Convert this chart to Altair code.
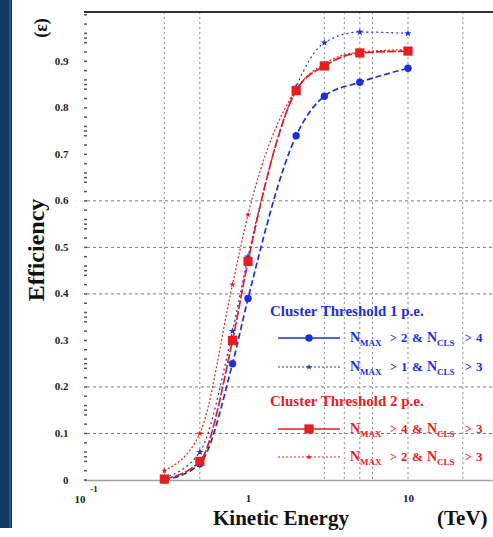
import altair as alt
import pandas as pd

# ---------------- data ----------------
energy = [0.3, 0.5, 0.8, 1.0, 2.0, 3.0, 5.0, 10.0]
eff_circle = [0.0, 0.035, 0.25, 0.39, 0.74, 0.825, 0.855, 0.885]     # 1 p.e., NMAX>2 & NCLS>4
eff_bstar = [0.005, 0.06, 0.32, 0.48, 0.845, 0.94, 0.963, 0.96]      # 1 p.e., NMAX>1 & NCLS>3
eff_square = [0.002, 0.04, 0.30, 0.47, 0.837, 0.89, 0.918, 0.922]    # 2 p.e., NMAX>4 & NCLS>3
eff_rstar = [0.02, 0.10, 0.42, 0.57, 0.84, 0.895, 0.92, 0.925]       # 2 p.e., NMAX>2 & NCLS>3

y_tick_values = [0.0, 0.1, 0.2, 0.3, 0.4, 0.5, 0.6, 0.7, 0.8, 0.9]
y_minor_ticks = [0.0, 0.02, 0.04, 0.05, 0.06, 0.08, 0.1, 0.12, 0.14, 0.15, 0.16, 0.18, 0.2,
                 0.22, 0.24, 0.25, 0.26, 0.28, 0.3, 0.32, 0.34, 0.35, 0.36, 0.38, 0.4,
                 0.42, 0.44, 0.45, 0.46, 0.48, 0.5, 0.52, 0.54, 0.55, 0.56, 0.58, 0.6,
                 0.62, 0.64, 0.65, 0.66, 0.68, 0.7, 0.72, 0.74, 0.75, 0.76, 0.78, 0.8,
                 0.82, 0.84, 0.85, 0.86, 0.88, 0.9, 0.92, 0.94, 0.95, 0.96, 0.98, 1.0]
y_grid_values = [0.1, 0.2, 0.4, 0.5, 0.6]
x_grid_values = [0.3, 0.5, 3, 4, 5, 6, 10, 22]
x_label_values = [1, 10]
x_domain = [0.0944, 33.5]
y_domain = [0.0, 1.006]

legend_heads = ["Cluster Threshold 1 p.e.", "Cluster Threshold 2 p.e."]
legend_nmax = ["2", "1", "4", "2"]
legend_ncls = ["4", "3", "3", "3"]

# ---------------- styling ----------------
OX, OY = 84, 12
W, H = 408, 468
SERIF = "Liberation Serif"
BLUE = "#1c2fe0"
RED = "#e61e1e"
STAR = ("M0,-1L0.2245,-0.309L0.9511,-0.309L0.3633,0.118L0.5878,0.809L0,0.382"
        "L-0.5878,0.809L-0.3633,0.118L-0.9511,-0.309L-0.2245,-0.309Z")

X_SCALE = alt.Scale(type="log", domain=x_domain, nice=False)
Y_SCALE = alt.Scale(domain=y_domain, nice=False, zero=False)
X_AXIS = alt.Axis(values=x_label_values, format="~g", title=None, ticks=False, grid=False,
                  domain=True, domainColor="#a0a0a0", domainWidth=1.5,
                  labelFont=SERIF, labelFontWeight="bold", labelFontSize=11,
                  labelPadding=12, labelColor="#222222")
Y_AXIS = alt.Axis(values=y_tick_values, format=".1~f", title=None, ticks=False, grid=False,
                  domain=False, labelFont=SERIF, labelFontWeight="bold", labelFontSize=11,
                  labelPadding=16, labelColor="#222222")


def xe(f):
    return alt.X(f"{f}:Q", scale=X_SCALE, axis=X_AXIS)


def ye(f):
    return alt.Y(f"{f}:Q", scale=Y_SCALE, axis=Y_AXIS)


ONE = pd.DataFrame({"a": [0]})


def txt(s, x, y, size, color, align="left", baseline="middle", angle=None, weight="bold"):
    kw = dict(text=s, align=align, baseline=baseline, font=SERIF, fontSize=size,
              fontWeight=weight, color=color)
    if angle is not None:
        kw["angle"] = angle
    return alt.Chart(ONE).mark_text(**kw).encode(x=alt.value(x - OX), y=alt.value(y - OY))


df = pd.DataFrame({"E": energy, "circle": eff_circle, "bstar": eff_bstar,
                   "square": eff_square, "rstar": eff_rstar})

layers = []

# grid
layers.append(alt.Chart(pd.DataFrame({"g": y_grid_values})).mark_rule(
    color="#7a7a7a", strokeDash=[3, 3], strokeWidth=1).encode(y=ye("g")))
layers.append(alt.Chart(pd.DataFrame({"g": x_grid_values})).mark_rule(
    color="#8a8a8a", strokeDash=[2, 3], strokeWidth=1).encode(x=xe("g")))

# y ticks on the inside
layers.append(alt.Chart(pd.DataFrame({"t": y_minor_ticks})).mark_rule(
    color="#555555", strokeWidth=1.5).encode(y=ye("t"), x=alt.value(0), x2=alt.value(3)))

# axis-carrying invisible layer for x labels
layers.append(alt.Chart(pd.DataFrame({"t": x_label_values, "v": [0, 0]})).mark_point(
    opacity=0).encode(x=xe("t"), y=ye("v")))

# top frame
layers.append(alt.Chart(ONE).mark_rule(color="#333333", strokeWidth=2).encode(
    x=alt.value(0), x2=alt.value(W + 1), y=alt.value(0)))

# curves
series = [
    ("bstar", BLUE, [2, 3], 1.2),
    ("rstar", RED, [2, 2], 1.2),
    ("circle", BLUE, [6, 3], 1.7),
    ("square", RED, [9, 2], 1.7),
]
for f, c, dash, sw in series:
    layers.append(alt.Chart(df).mark_line(interpolate="monotone", color=c,
                                          strokeDash=dash, strokeWidth=sw)
                  .encode(x=xe("E"), y=ye(f)))

# markers
layers.append(alt.Chart(df).mark_point(shape=STAR, filled=True, size=60, color=BLUE, opacity=1)
              .encode(x=xe("E"), y=ye("bstar")))
layers.append(alt.Chart(df).mark_point(shape=STAR, filled=True, size=45, color=RED, opacity=1)
              .encode(x=xe("E"), y=ye("rstar")))
layers.append(alt.Chart(df).mark_point(shape="circle", filled=True, size=55, color=BLUE, opacity=1)
              .encode(x=xe("E"), y=ye("circle")))
layers.append(alt.Chart(df).mark_point(shape="square", filled=True, size=85, color=RED, opacity=1)
              .encode(x=xe("E"), y=ye("square")))

# ---------------- legend ----------------
layers.append(txt(legend_heads[0], 270, 311, 15, BLUE))
layers.append(txt(legend_heads[1], 270, 401, 15, RED))

entry_y = [338, 367, 429, 457]
entry_col = [BLUE, BLUE, RED, RED]
entry_dash = [None, [2, 2], None, [2, 2]]
entry_shape = ["circle", STAR, "square", STAR]
entry_size = [55, 40, 85, 35]
for i in range(4):
    yy = entry_y[i]
    col = entry_col[i]
    rk = dict(color=col, strokeWidth=1.6 if entry_dash[i] is None else 1.1)
    if entry_dash[i] is not None:
        rk["strokeDash"] = entry_dash[i]
    layers.append(alt.Chart(ONE).mark_rule(**rk).encode(
        x=alt.value(278 - OX), x2=alt.value(340 - OX), y=alt.value(yy - OY)))
    layers.append(alt.Chart(ONE).mark_point(shape=entry_shape[i], filled=True,
                                            size=entry_size[i], color=col, opacity=1)
                  .encode(x=alt.value(309 - OX), y=alt.value(yy - OY)))
    layers.append(txt("N", 350, yy, 14, col))
    layers.append(txt("MAX", 360, yy + 5, 9, col))
    layers.append(txt(">", 390, yy, 12, col))
    layers.append(txt(legend_nmax[i], 401, yy, 13, col))
    layers.append(txt("&", 412, yy, 13, col))
    layers.append(txt("N", 427, yy, 14, col))
    layers.append(txt("CLS", 437, yy + 5, 9, col))
    layers.append(txt(">", 465, yy, 12, col))
    layers.append(txt(legend_ncls[i], 476, yy, 13, col))

# ---------------- titles & decorations ----------------
layers.append(txt("Efficiency", 37, 250, 24, "#111111", align="center", angle=270))
layers.append(txt("(ε)", 42, 28, 18, "#111111", align="center", angle=270))
layers.append(txt("Kinetic Energy", 213, 525, 21, "#111111", baseline="alphabetic"))
layers.append(txt("(TeV)", 437, 525, 21, "#111111", baseline="alphabetic"))
layers.append(txt("10", 80, 500, 11, "#222222", align="center"))
layers.append(txt("-1", 94, 489, 9, "#222222", align="center"))

# left dark border band
layers.append(alt.Chart(ONE).mark_rect(color="#113a63").encode(
    x=alt.value(0 - OX), x2=alt.value(12 - OX), y=alt.value(0 - OY), y2=alt.value(528 - OY)))
layers.append(alt.Chart(ONE).mark_rule(color="#2f5f8e", strokeWidth=1.5).encode(
    x=alt.value(10 - OX), y=alt.value(0 - OY), y2=alt.value(528 - OY)))

chart = alt.layer(*layers).properties(
    width=W, height=H,
    autosize=alt.AutoSizeParams(type="none"),
    padding={"left": OX, "top": OY, "right": 493 - OX - W, "bottom": 537 - OY - H},
    background="white",
).configure_view(stroke=None)

chart.save("out.html", embed_options={"renderer": "svg", "actions": False})
